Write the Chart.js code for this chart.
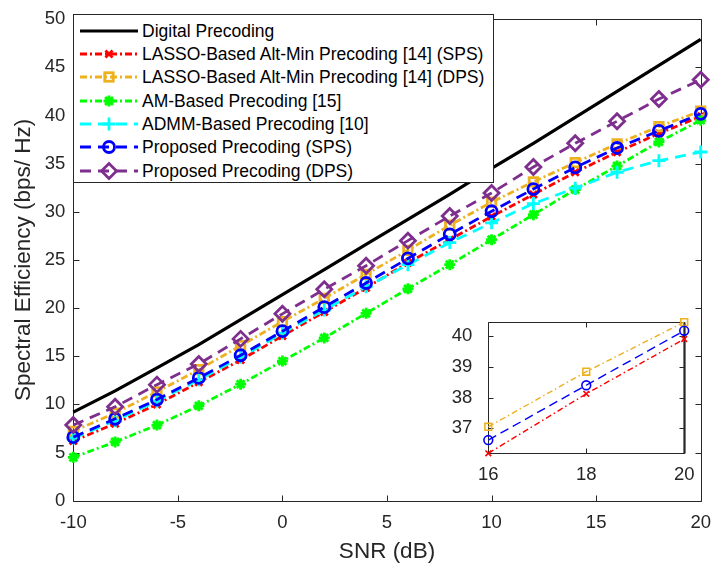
<!DOCTYPE html>
<html>
<head>
<meta charset="utf-8">
<script src="https://cdn.jsdelivr.net/npm/chart.js@4.4.1/dist/chart.umd.min.js"></script>
<style>
html,body{margin:0;padding:0;background:#fff;}
#wrap{position:relative;width:722px;height:566px;overflow:hidden;font-family:"Liberation Sans",Arial,sans-serif;}
#main{position:absolute;left:0;top:0;}
#inset{position:absolute;left:430px;top:295px;}
#legend{position:absolute;left:73px;top:14px;width:421px;height:169px;background:#fff;border:1px solid #262626;box-sizing:border-box;z-index:5;}
.row{position:absolute;left:0;height:24px;width:420px;}
.row svg{position:absolute;left:0;top:0;}
.row span{position:absolute;left:68px;top:0;line-height:24px;font-size:17.5px;color:#000;white-space:nowrap;}
</style>
</head>
<body>
<div id="wrap">
  <canvas id="main" width="722" height="566"></canvas>
  <canvas id="inset" width="275" height="200"></canvas>
  <div id="legend"></div>
</div>
<script>
// ---------------- data ----------------
const snr = [-10,-8,-6,-4,-2,0,2,4,6,8,10,12,14,16,18,20];
const digital  = [9.2,11.4,13.8,16.2,18.8,21.4,24.0,26.6,29.2,31.8,34.5,37.1,39.8,42.5,45.2,47.9];
const lassoSps = [6.2,8.0,10.0,12.3,14.6,17.1,19.6,22.1,24.7,27.1,29.5,31.8,34.1,36.19,38.12,39.9];
const lassoDps = [7.2,9.1,11.3,13.6,16.1,18.6,21.0,23.5,26.0,28.6,31.0,33.1,35.1,37.05,38.84,40.45];
const amBased  = [4.5,6.1,7.85,9.85,12.1,14.5,16.9,19.45,22.0,24.5,27.1,29.7,32.3,34.75,37.25,39.5];
const admm     = [6.5,8.3,10.35,12.55,14.9,17.4,19.8,22.2,24.5,26.8,28.85,30.85,32.45,34.1,35.3,36.2];
const propSps  = [6.6,8.5,10.5,12.75,15.1,17.6,20.1,22.6,25.15,27.65,30.05,32.35,34.6,36.62,38.4,40.17];
const propDps  = [7.85,9.75,12.05,14.2,16.8,19.4,21.95,24.4,27.0,29.55,31.95,34.65,37.1,39.4,41.7,43.7];
const seriesNames = [
  'Digital Precoding',
  'LASSO-Based Alt-Min Precoding [14] (SPS)',
  'LASSO-Based Alt-Min Precoding [14] (DPS)',
  'AM-Based Precoding [15]',
  'ADMM-Based Precoding [10]',
  'Proposed Precoding (SPS)',
  'Proposed Precoding (DPS)'
];
const xTicks = [-10,-5,0,5,10,15,20];
const yTicks = [0,5,10,15,20,25,30,35,40,45,50];
const insetStart = 13; // inset shows SNR 16..20
const insetXTicks = [16,18,20];
const insetYTicks = [37,38,39,40];
const xTitle = 'SNR (dB)';
const yTitle = 'Spectral Efficiency (bps/ Hz)';

// ---------------- styles ----------------
const FONT = '"Liberation Sans", Arial, sans-serif';
Chart.defaults.font.family = FONT;
const AX = '#262626';
const styles = [
  {color:'#000000', dash:[], marker:false, r:0, w:3.2},
  {color:'#FF0000', dash:[7,3,2,3], marker:'crossRot', r:5, w:2.8},
  {color:'#EDB120', dash:[7,3,2,3], marker:'rect', r:6, w:2.8},
  {color:'#00FF00', dash:[7,3,2,3], marker:'star', r:5.5, w:2.8},
  {color:'#00FFFF', dash:[11,7], marker:'cross', r:6.5, w:2.8},
  {color:'#0000FF', dash:[11,7], marker:'circle', r:5.5, w:2.8},
  {color:'#7E2F8E', dash:[11,7], marker:'rectRot', r:7.5, w:2.8}
];
const seriesData = [digital, lassoSps, lassoDps, amBased, admm, propSps, propDps];

function mkDataset(i, data, xs, small) {
  const s = styles[i];
  return {
    label: seriesNames[i],
    data: xs.map((x, k) => ({x: x, y: data[k]})),
    borderColor: s.color,
    borderWidth: small ? 1.4 : s.w,
    borderDash: small ? (s.dash.length === 2 ? [9,5] : [6,3,1.5,3]) : s.dash,
    tension: 0,
    fill: false,
    clip: false,
    pointStyle: s.marker || 'circle',
    pointRadius: s.marker ? (small ? s.r * 0.8 : s.r) : 0,
    pointHoverRadius: 0,
    pointBorderColor: s.color,
    pointBackgroundColor: 'rgba(0,0,0,0)',
    pointBorderWidth: small ? 1.6 : s.w,
    order: 10 - i
  };
}

function boxPlugin(opts) {
  return {
    id: 'box' + (opts.name || ''),
    beforeDraw(chart) {
      const c = chart.ctx, a = chart.chartArea;
      c.save();
      c.fillStyle = '#fff';
      if (opts.fullBg) c.fillRect(0, 0, chart.width, chart.height);
      else c.fillRect(a.left, a.top, a.right - a.left, a.bottom - a.top);
      c.restore();
    },
    beforeDatasetsDraw(chart) {
      const c = chart.ctx, a = chart.chartArea;
      const xs = chart.scales.x, ys = chart.scales.y;
      c.save();
      c.strokeStyle = AX;
      c.lineWidth = 1;
      c.beginPath();
      const L = Math.round(a.left) + 0.5, R = Math.round(a.right) + 0.5;
      const T = Math.round(a.top) + 0.5, B = Math.round(a.bottom) + 0.5;
      c.rect(L, T, R - L, B - T);
      const tl = opts.tick;
      xs.ticks.forEach(t => {
        const p = Math.round(xs.getPixelForValue(t.value)) + 0.5;
        c.moveTo(p, B); c.lineTo(p, B - tl);
        c.moveTo(p, T); c.lineTo(p, T + tl);
      });
      ys.ticks.forEach(t => {
        const p = Math.round(ys.getPixelForValue(t.value)) + 0.5;
        c.moveTo(L, p); c.lineTo(L + tl, p);
        c.moveTo(R, p); c.lineTo(R - tl, p);
      });
      c.stroke();
      if (opts.thickRight) {
        c.lineWidth = 2.2;
        c.beginPath(); c.moveTo(R, T); c.lineTo(R, B); c.stroke();
      }
      c.restore();
    }
  };
}

// ---------------- main chart ----------------
new Chart(document.getElementById('main'), {
  type: 'line',
  data: { datasets: seriesData.map((d, i) => mkDataset(i, d, snr, false)) },
  options: {
    responsive: false, animation: false, devicePixelRatio: 1,
    layout: { padding: { top: 14.3, right: 12, left: 0, bottom: 0 } },
    plugins: { legend: { display: false }, tooltip: { enabled: false } },
    scales: {
      x: {
        type: 'linear', min: -10, max: 20,
        afterBuildTicks: s => { s.ticks = xTicks.map(v => ({value: v})); },
        afterFit: s => { s.height = 65.3; },
        grid: { display: false, drawTicks: false },
        border: { display: false },
        ticks: { padding: 11, color: AX, font: { size: 18.5 }, maxRotation: 0, autoSkip: false, callback: v => String(v) },
        title: { display: true, text: xTitle, color: AX, font: { size: 22.5 }, padding: { top: 0, bottom: 0.5 } }
      },
      y: {
        type: 'linear', min: 0, max: 50,
        afterBuildTicks: s => { s.ticks = yTicks.map(v => ({value: v})); },
        afterFit: s => { s.width = 73.3; },
        grid: { display: false, drawTicks: false },
        border: { display: false },
        ticks: { padding: 8, color: AX, font: { size: 18.5 }, autoSkip: false, callback: v => String(v) },
        title: { display: true, text: yTitle, color: AX, font: { size: 22.5 }, padding: { top: 10.5, bottom: 0 } }
      }
    }
  },
  plugins: [boxPlugin({ name: 'main', fullBg: true, tick: 6 })]
});

// ---------------- inset chart ----------------
const insetIdx = [2, 5, 1];
const insetX = snr.slice(insetStart);
const insetVals = insetIdx.map(i => seriesData[i].slice(insetStart));
const allInset = [].concat(...insetVals);
new Chart(document.getElementById('inset'), {
  type: 'line',
  data: { datasets: insetIdx.map((i, k) => mkDataset(i, insetVals[k], insetX, true)) },
  options: {
    responsive: false, animation: false, devicePixelRatio: 1,
    layout: { padding: { top: 9.3, right: 11, left: 0, bottom: 0 } },
    plugins: { legend: { display: false }, tooltip: { enabled: false } },
    scales: {
      x: {
        type: 'linear', min: insetX[0], max: insetX[insetX.length - 1],
        afterBuildTicks: s => { s.ticks = insetXTicks.map(v => ({value: v})); },
        afterFit: s => { s.height = 41.7; },
        grid: { display: false, drawTicks: false },
        border: { display: false },
        ticks: { padding: 10.5, color: AX, font: { size: 18.5 }, maxRotation: 0, autoSkip: false, callback: v => String(v) }
      },
      y: {
        type: 'linear', min: Math.min(...allInset), max: Math.max(...allInset),
        afterBuildTicks: s => { s.ticks = insetYTicks.map(v => ({value: v})); },
        afterFit: s => { s.width = 58.3; },
        grid: { display: false, drawTicks: false },
        border: { display: false },
        ticks: { padding: 16, color: AX, font: { size: 18.5 }, autoSkip: false, callback: v => String(v) }
      }
    }
  },
  plugins: [boxPlugin({ name: 'inset', fullBg: false, tick: 5, thickRight: true })]
});

// ---------------- legend (HTML) ----------------
function markerSvg(s, cx, cy) {
  const r = s.r, c = s.color, w = s.w;
  const st = `stroke="${c}" stroke-width="${w}" fill="none"`;
  const d = r * Math.SQRT1_2;
  switch (s.marker) {
    case 'circle': return `<circle cx="${cx}" cy="${cy}" r="${r}" ${st}/>`;
    case 'rect': return `<rect x="${cx-d}" y="${cy-d}" width="${2*d}" height="${2*d}" ${st}/>`;
    case 'rectRot': return `<polygon points="${cx},${cy-r} ${cx+r},${cy} ${cx},${cy+r} ${cx-r},${cy}" ${st}/>`;
    case 'cross': return `<path d="M${cx-r},${cy}H${cx+r}M${cx},${cy-r}V${cy+r}" ${st}/>`;
    case 'crossRot': return `<path d="M${cx-d},${cy-d}L${cx+d},${cy+d}M${cx-d},${cy+d}L${cx+d},${cy-d}" ${st}/>`;
    case 'star': return `<path d="M${cx-r},${cy}H${cx+r}M${cx},${cy-r}V${cy+r}M${cx-d},${cy-d}L${cx+d},${cy+d}M${cx-d},${cy+d}L${cx+d},${cy-d}" ${st}/>`;
  }
  return '';
}
const leg = document.getElementById('legend');
seriesNames.forEach((name, i) => {
  const s = styles[i];
  const top = 3.7 + i * 23.33;
  const row = document.createElement('div');
  row.className = 'row';
  row.style.top = top + 'px';
  const dash = s.dash.length ? `stroke-dasharray="${s.dash.join(' ')}"` : '';
  row.innerHTML = `<svg width="68" height="24"><line x1="6" y1="12" x2="64" y2="12" stroke="${s.color}" stroke-width="${s.w}" ${dash}/>${s.marker ? markerSvg(s, 35, 12) : ''}</svg><span>${name}</span>`;
  leg.appendChild(row);
});
</script>
</body>
</html>
